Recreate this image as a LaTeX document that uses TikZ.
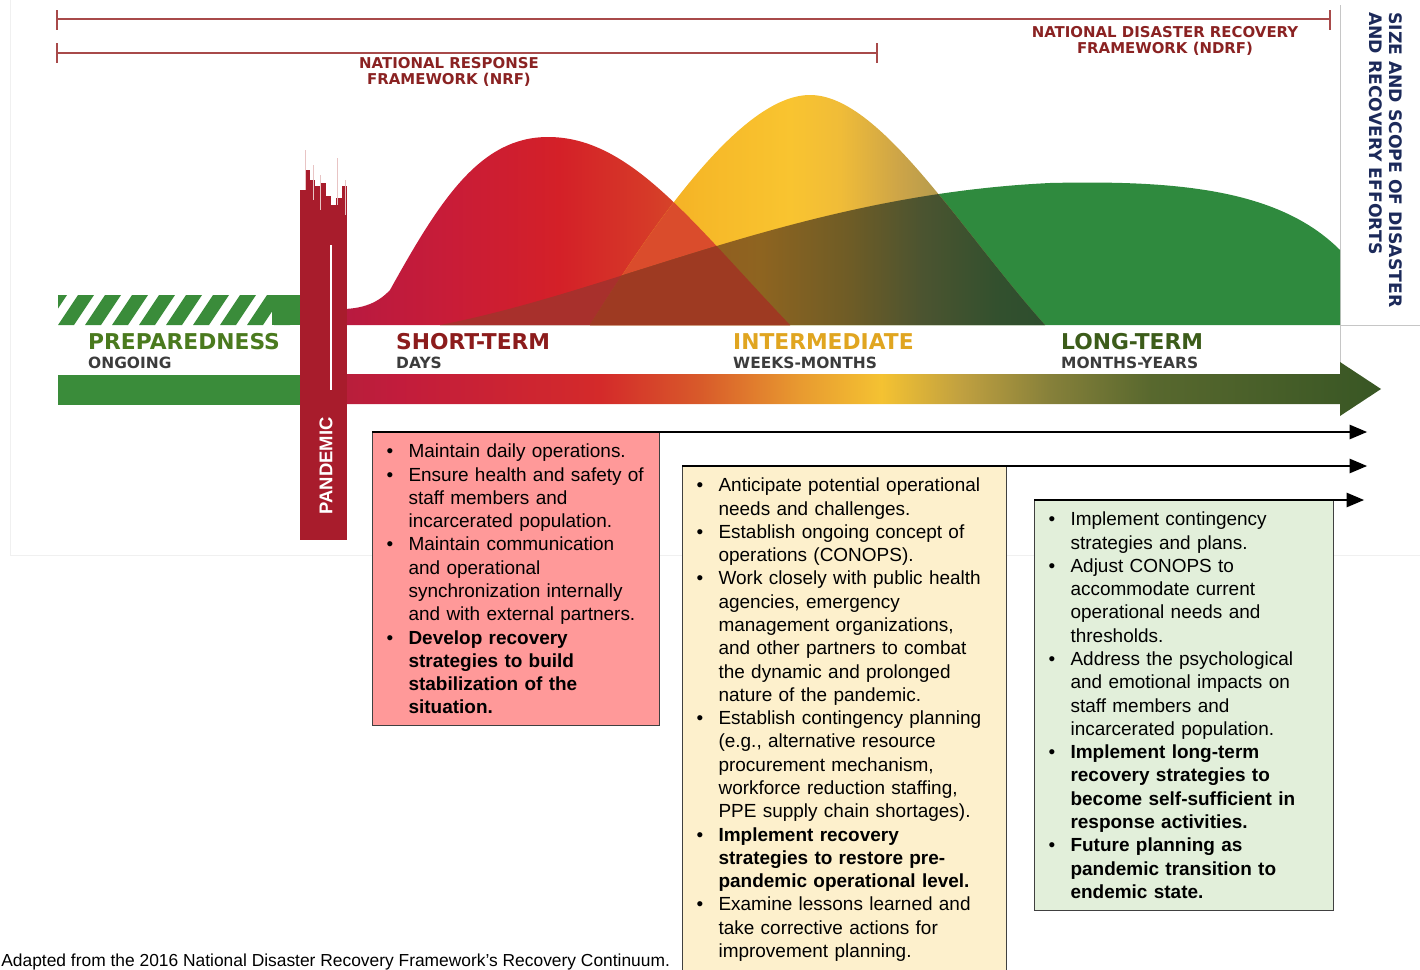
\documentclass[tikz,border=0pt]{standalone}
\usepackage{xcolor}
\usepackage{fontspec}
\setmainfont{Liberation Sans}
\newfontfamily\headfont{DejaVu Sans}
\usepackage{tikz}
\usetikzlibrary{arrows}

\definecolor{frameline}{HTML}{A84A4A}
\definecolor{framered}{HTML}{8A2222}
\definecolor{prepgreen}{HTML}{3A8C3A}
\definecolor{preptext}{HTML}{4A7A1E}
\definecolor{shorttext}{HTML}{8C1C1C}
\definecolor{midtext}{HTML}{E0A520}
\definecolor{longtext}{HTML}{3C5C1A}
\definecolor{subgray}{HTML}{3C3C3C}
\definecolor{pandred}{HTML}{A81C2C}
\definecolor{palebar}{HTML}{E8C4C4}
\definecolor{humpgreen}{HTML}{2F8A3E}
\definecolor{redgreen}{HTML}{A8302C}
\definecolor{redyellow}{HTML}{DA4C2C}
\definecolor{triplemix}{HTML}{9E3A22}
\definecolor{sizeblue}{HTML}{1C2A5A}
\definecolor{redbox}{HTML}{FF9999}
\definecolor{yellowbox}{HTML}{FDF0CC}
\definecolor{greenbox}{HTML}{E2EFDA}

\definecolor{rh1}{HTML}{B81A40}
\definecolor{rh2}{HTML}{C81C38}
\definecolor{rh3}{HTML}{D42028}
\definecolor{rh4}{HTML}{D63A28}
\definecolor{rh5}{HTML}{D85A2C}
\definecolor{rh6}{HTML}{D86A30}
\definecolor{yh1}{HTML}{F0A020}
\definecolor{yh2}{HTML}{F6B828}
\definecolor{yh3}{HTML}{F9C430}
\definecolor{yh4}{HTML}{F0BC38}
\definecolor{yh5}{HTML}{CCA448}
\definecolor{yh6}{HTML}{A89650}
\definecolor{yh7}{HTML}{8C8E50}
\definecolor{ol1}{HTML}{9A5020}
\definecolor{ol2}{HTML}{8E6420}
\definecolor{ol3}{HTML}{6E5C26}
\definecolor{ol4}{HTML}{4C5430}
\definecolor{ol5}{HTML}{32502E}
\definecolor{ol6}{HTML}{2E4E2E}
\definecolor{ar1}{HTML}{B0203A}
\definecolor{ar2}{HTML}{C21C3C}
\definecolor{ar3}{HTML}{D42A2A}
\definecolor{ar4}{HTML}{D85A2A}
\definecolor{ar5}{HTML}{E89A30}
\definecolor{ar6}{HTML}{F4C232}
\definecolor{ar7}{HTML}{C0A040}
\definecolor{ar8}{HTML}{86803A}
\definecolor{ar9}{HTML}{58682E}
\definecolor{ar10}{HTML}{385624}

\pgfdeclarehorizontalshading{redshade}{100bp}{color(0bp)=(rh1); color(25bp)=(rh1);
  color(36.6bp)=(rh2); color(49bp)=(rh3); color(59.2bp)=(rh4); color(68.2bp)=(rh5);
  color(75bp)=(rh6); color(100bp)=(rh6)}
\pgfdeclarehorizontalshading{yellowshade}{100bp}{color(0bp)=(yh1); color(25bp)=(yh1);
  color(37.1bp)=(yh2); color(47bp)=(yh3); color(52.5bp)=(yh4); color(59.1bp)=(yh5);
  color(65.7bp)=(yh6); color(75bp)=(yh7); color(100bp)=(yh7)}
\pgfdeclarehorizontalshading{oliveshade}{100bp}{color(0bp)=(ol1); color(25bp)=(ol1);
  color(43.7bp)=(ol2); color(53.6bp)=(ol3); color(61.3bp)=(ol4); color(70bp)=(ol5);
  color(75bp)=(ol6); color(100bp)=(ol6)}
\pgfdeclarehorizontalshading{barshade}{100bp}{color(0bp)=(ar1); color(25bp)=(ar1);
  color(29.6bp)=(ar2); color(38.9bp)=(ar3); color(43.5bp)=(ar4); color(48.1bp)=(ar5);
  color(51.9bp)=(ar6); color(55.6bp)=(ar7); color(59.7bp)=(ar8); color(64.4bp)=(ar9);
  color(75bp)=(ar10); color(100bp)=(ar10)}

\newcommand\redhump{(345,325) -- (345,309) .. controls (362,308) and (377,304) .. (390,290)
  .. controls (440,200) and (480,137) .. (548,137) .. controls (630,137) and (690,220) .. (790,325) -- cycle}
\newcommand\yellowhump{(590,325) .. controls (650,230) and (740,95) .. (810,95)
  .. controls (880,95) and (960,230) .. (1045,325) -- cycle}
\newcommand\greenhump{(440,325) .. controls (620,290) and (800,195) .. (1050,183)
  .. controls (1180,180) and (1280,190) .. (1340,250) -- (1340,325) -- cycle}

\newcommand\bitem{\makebox[12.5pt][l]{\textbullet}}
\newcommand\bcont{\hspace*{12.5pt}}

\begin{document}
\begin{tikzpicture}[x=0.02cm, y=-0.02cm,
  frame/.style={draw=frameline, line width=1.3pt},
  framelbl/.style={text=framered, align=center, font=\headfont\bfseries\fontsize{8.5}{9.6}\selectfont},
  phase/.style={anchor=base west, font=\headfont\bfseries\fontsize{12.4}{14}\selectfont},
  span/.style={anchor=base west, text=subgray, font=\headfont\bfseries\fontsize{8.8}{10}\selectfont},
  taskbox/.style={draw=black!75, line width=0.6pt, anchor=north west, align=left,
    inner xsep=8pt, inner ysep=6.6pt, font=\fontsize{10.8}{13.25}\selectfont},
  taskline/.style={line width=1.3pt, -triangle 45}]

\useasboundingbox (0,0) rectangle (1420,970);

\draw[gray!12] (10,0) -- (10,555) -- (1420,555);

\draw[frame] (57,10) -- (57,30) (57,19) -- (1330,19) (1330,10) -- (1330,30);
\draw[frame] (57,43) -- (57,63) (57,53) -- (877,53) (877,43) -- (877,63);
\node[framelbl] (nrf) at (449,72) {NATIONAL RESPONSE\\FRAMEWORK (NRF)};
\node[framelbl] (ndrf) at (1165,41) {NATIONAL DISASTER RECOVERY\\FRAMEWORK (NDRF)};

\draw[gray!45] (1340,5) -- (1340,372) (1340,325) -- (1420,325);
\node[rotate=-90, anchor=north west, align=left, text=sizeblue,
  font=\headfont\bfseries\fontsize{9.8}{11.3}\selectfont] (size) at (1408,6)
  {SIZE AND SCOPE OF DISASTER\\AND RECOVERY EFFORTS};

% the three recovery humps
\fill[humpgreen] \greenhump;
\shade[shading=redshade] \redhump;
\shade[shading=yellowshade] \yellowhump;
\begin{scope}
  \clip \redhump;
  \fill[redyellow] \yellowhump;
\end{scope}
\begin{scope}
  \clip \greenhump;
  \fill[redgreen] \redhump;
  \shade[shading=oliveshade] \yellowhump;
  \clip \redhump;
  \fill[triplemix] \yellowhump;
\end{scope}

% preparedness stripes and bar
\begin{scope}
  \clip (58,295) rectangle (300,325);
  \fill[prepgreen] (272,295) rectangle (300,325);
  \foreach \i in {-1,...,8}
    \fill[prepgreen] (58+27*\i,325) -- ++(16,0) -- ++(20,-30) -- ++(-16,0) -- cycle;
\end{scope}
\fill[prepgreen] (58,375) rectangle (300,405);

\shade[shading=barshade] (300,374) -- (1340,374) -- (1340,362) -- (1381,389)
  -- (1340,416) -- (1340,404) -- (300,404) -- cycle;

% pandemic spike
\fill[pandred] (300,212) rectangle (347,540);
\foreach \xa/\xb/\yt in {300/305/190, 305/310/170, 310/315/180, 315/320/186, 320/326/183,
    326/331/196, 331/336/205, 336/342/198, 342/347/186}
  \fill[pandred] (\xa,\yt) rectangle (\xb,230);
\foreach \xl/\yt/\yb in {305/150/190, 313/165/200, 320/175/210, 337/158/205, 345/180/215}
  \draw[palebar, line width=0.5pt] (\xl,\yt) -- (\xl,\yb);
\draw[white, line width=0.6pt] (331,245) -- (331,390);
\node[rotate=90, text=white, font=\bfseries\fontsize{10.5}{12}\selectfont] (pandemic) at (326,466) {PANDEMIC};

\node[phase, text=preptext] (prep) at (82,349) {PREPAREDNESS};
\node[span] (ongoing) at (82,368) {ONGOING};
\node[phase, text=shorttext] (short) at (390,349) {SHORT-TERM};
\node[span] (days) at (390,368) {DAYS};
\node[phase, text=midtext] (mid) at (727,349) {INTERMEDIATE};
\node[span] (weeks) at (727,368) {WEEKS-MONTHS};
\node[phase, text=longtext] (long) at (1055,349) {LONG-TERM};
\node[span] (years) at (1055,368) {MONTHS-YEARS};

% actions per phase
\node[taskbox, fill=redbox, text width=147.3pt] (shortbox) at (372,432) {%
\bitem Maintain daily operations.\\
\bitem Ensure health and safety of\\
\bcont staff members and\\
\bcont incarcerated population.\\
\bitem Maintain communication\\
\bcont and operational\\
\bcont synchronization internally\\
\bcont and with external partners.\\
\bitem\textbf{Develop recovery}\\
\bcont\textbf{strategies to build}\\
\bcont\textbf{stabilization of the}\\
\bcont\textbf{situation.}};

\node[taskbox, fill=yellowbox, text width=168.2pt] (midbox) at (682,466) {%
\bitem Anticipate potential operational\\
\bcont needs and challenges.\\
\bitem Establish ongoing concept of\\
\bcont operations (CONOPS).\\
\bitem Work closely with public health\\
\bcont agencies, emergency\\
\bcont management organizations,\\
\bcont and other partners to combat\\
\bcont the dynamic and prolonged\\
\bcont nature of the pandemic.\\
\bitem Establish contingency planning\\
\bcont (e.g., alternative resource\\
\bcont procurement mechanism,\\
\bcont workforce reduction staffing,\\
\bcont PPE supply chain shortages).\\
\bitem\textbf{Implement recovery}\\
\bcont\textbf{strategies to restore pre-}\\
\bcont\textbf{pandemic operational level.}\\
\bitem Examine lessons learned and\\
\bcont take corrective actions for\\
\bcont improvement planning.\\
\mbox{}};

\node[taskbox, fill=greenbox, text width=154.1pt] (longbox) at (1034,500) {%
\bitem Implement contingency\\
\bcont strategies and plans.\\
\bitem Adjust CONOPS to\\
\bcont accommodate current\\
\bcont operational needs and\\
\bcont thresholds.\\
\bitem Address the psychological\\
\bcont and emotional impacts on\\
\bcont staff members and\\
\bcont incarcerated population.\\
\bitem\textbf{Implement long-term}\\
\bcont\textbf{recovery strategies to}\\
\bcont\textbf{become self-sufficient in}\\
\bcont\textbf{response activities.}\\
\bitem\textbf{Future planning as}\\
\bcont\textbf{pandemic transition to}\\
\bcont\textbf{endemic state.}};

\coordinate (shortend) at (1367,432);
\coordinate (midend) at (1367,466);
\coordinate (longend) at (1364,500);
\draw[taskline] (shortbox.north west) -- (shortend);
\draw[taskline] (midbox.north west) -- (midend);
\draw[taskline] (longbox.north west) -- (longend);

\node[anchor=base west, inner xsep=0pt, font=\fontsize{9.9}{12}\selectfont] (source) at (1,966)
  {Adapted from the 2016 National Disaster Recovery Framework’s Recovery Continuum.};
\end{tikzpicture}
\end{document}
